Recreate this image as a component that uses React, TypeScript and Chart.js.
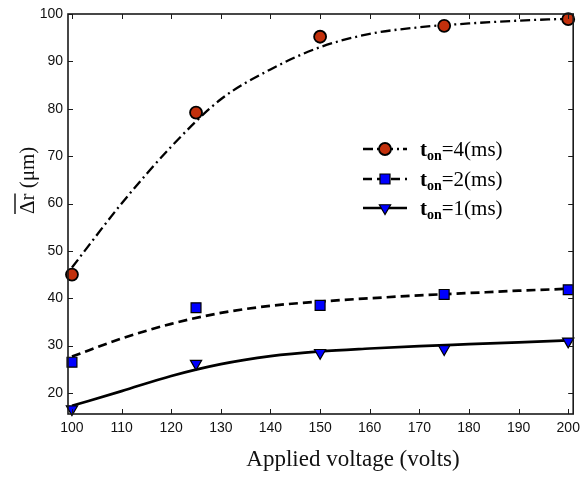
import React, { useEffect, useRef } from 'react';
import { Chart, registerables } from 'chart.js';
Chart.register(...registerables);

const voltages = [100, 125, 150, 175, 200];
const t4Points = [45, 79.2, 95.2, 97.5, 98.9];
const t2Points = [26.5, 38, 38.5, 40.8, 41.8];
const t1Points = [16.6, 26.2, 28.5, 29.3, 30.9];

const fitVoltages = [100, 110, 120, 130, 140, 150, 160, 170, 180, 190, 200];
const t4Fit = [46.5, 60, 72, 82, 88.3, 93, 95.8, 97.2, 98, 98.6, 99];
const t2Fit = [27.7, 31.5, 34.6, 36.9, 38.4, 39.3, 40, 40.6, 41.1, 41.6, 42];
const t1Fit = [17.3, 20.4, 23.6, 26.1, 27.8, 28.8, 29.4, 29.9, 30.3, 30.7, 31.1];

const xTicks = [100, 110, 120, 130, 140, 150, 160, 170, 180, 190, 200];
const yTicks = [20, 30, 40, 50, 60, 70, 80, 90, 100];

const legendValues = ['=4(ms)', '=2(ms)', '=1(ms)'];
const xTitle = 'Applied voltage (volts)';
const yTitleMain = 'Δr';
const yTitleUnit = ' (μm)';

const RED = '#c2300c';
const BLUE = '#0000ff';
const dash4 = [10, 4, 2, 4];
const dash2 = [9, 5];
const dash1: number[] = [];

const toXY = (xs: number[], ys: number[]) => xs.map((x, i) => ({ x, y: ys[i] }));

function drawMarker(ctx: CanvasRenderingContext2D, style: string, x: number, y: number, fill: string) {
  ctx.save();
  ctx.setLineDash([]);
  ctx.fillStyle = fill;
  ctx.strokeStyle = '#000';
  ctx.beginPath();
  if (style === 'circle') {
    ctx.lineWidth = 1.8;
    ctx.arc(x, y, 6, 0, Math.PI * 2);
  } else if (style === 'rect') {
    ctx.lineWidth = 1.2;
    ctx.rect(x - 5, y - 5, 10, 10);
  } else {
    ctx.lineWidth = 1.2;
    const r = 6.5;
    ctx.moveTo(x, y + r);
    ctx.lineTo(x - r * 0.866, y - r / 2);
    ctx.lineTo(x + r * 0.866, y - r / 2);
    ctx.closePath();
  }
  ctx.fill();
  ctx.stroke();
  ctx.restore();
}

const decorPlugin = {
  id: 'decor',
  afterDraw(chart: any) {
    const { ctx, chartArea: a, scales } = chart;
    const xs = scales.x;
    const ys = scales.y;
    ctx.save();
    ctx.strokeStyle = '#1a1a1a';
    ctx.lineWidth = 1;
    const tl = 5;
    xs.ticks.forEach((t: any) => {
      const px = Math.round(xs.getPixelForValue(t.value)) + 0.5;
      ctx.beginPath();
      ctx.moveTo(px, a.bottom);
      ctx.lineTo(px, a.bottom - tl);
      ctx.moveTo(px, a.top);
      ctx.lineTo(px, a.top + tl);
      ctx.stroke();
    });
    ys.ticks.forEach((t: any) => {
      const py = Math.round(ys.getPixelForValue(t.value)) + 0.5;
      ctx.beginPath();
      ctx.moveTo(a.left, py);
      ctx.lineTo(a.left + tl, py);
      ctx.moveTo(a.right, py);
      ctx.lineTo(a.right - tl, py);
      ctx.stroke();
    });
    ctx.lineWidth = 1.6;
    ctx.strokeRect(a.left, a.top, a.right - a.left, a.bottom - a.top);

    // x title
    ctx.fillStyle = '#111';
    ctx.font = '23px "Liberation Serif"';
    ctx.textAlign = 'center';
    ctx.textBaseline = 'alphabetic';
    ctx.fillText(xTitle, 353, 466);

    // y title with overline
    ctx.save();
    ctx.translate(28, 214);
    ctx.rotate(-Math.PI / 2);
    ctx.font = '21px "Liberation Serif"';
    ctx.textAlign = 'left';
    ctx.textBaseline = 'middle';
    ctx.fillText(yTitleMain, 0, 0);
    const w1 = ctx.measureText(yTitleMain).width;
    ctx.lineWidth = 1.5;
    ctx.beginPath();
    ctx.moveTo(0, -13);
    ctx.lineTo(w1, -13);
    ctx.stroke();
    ctx.fillText(yTitleUnit, w1, 0);
    ctx.restore();

    // legend
    const rows = [
      { y: 149, style: 'circle', fill: RED, dash: dash4, lw: 2.3 },
      { y: 179, style: 'rect', fill: BLUE, dash: dash2, lw: 2.7 },
      { y: 208, style: 'tri', fill: BLUE, dash: dash1, lw: 2.7 },
    ];
    rows.forEach((r, i) => {
      ctx.save();
      ctx.strokeStyle = '#000';
      ctx.lineWidth = r.lw;
      ctx.setLineDash(r.dash);
      ctx.beginPath();
      ctx.moveTo(363, r.y);
      ctx.lineTo(407, r.y);
      ctx.stroke();
      ctx.restore();
      drawMarker(ctx, r.style, 385, r.y, r.fill);
      ctx.fillStyle = '#000';
      ctx.textAlign = 'left';
      ctx.textBaseline = 'alphabetic';
      const base = r.y + 7;
      let x = 420;
      ctx.font = 'bold 21px "Liberation Serif"';
      ctx.fillText('t', x, base);
      x += ctx.measureText('t').width;
      ctx.font = 'bold 14px "Liberation Serif"';
      ctx.fillText('on', x, base + 4);
      x += ctx.measureText('on').width;
      ctx.font = '21px "Liberation Serif"';
      ctx.fillText(legendValues[i], x, base);
    });
    ctx.restore();
  },
};

export default function App() {
  const ref = useRef<HTMLCanvasElement>(null);
  useEffect(() => {
    if (!ref.current) return;
    const tickFont = { family: '"Liberation Sans", Arial, sans-serif', size: 14 };
    const chart = new Chart(ref.current, {
      type: 'scatter',
      data: {
        datasets: [
          {
            label: 't_on=4(ms) data',
            data: toXY(voltages, t4Points),
            pointStyle: 'circle',
            pointRadius: 6,
            pointBackgroundColor: RED,
            pointBorderColor: '#000',
            pointBorderWidth: 1.8,
            showLine: false,
            order: 0,
            clip: false,
          },
          {
            label: 't_on=2(ms) data',
            data: toXY(voltages, t2Points),
            pointStyle: 'rect',
            pointRadius: 7,
            pointBackgroundColor: BLUE,
            pointBorderColor: '#000',
            pointBorderWidth: 1.2,
            showLine: false,
            order: 0,
            clip: false,
          },
          {
            label: 't_on=1(ms) data',
            data: toXY(voltages, t1Points),
            pointStyle: 'triangle',
            pointRotation: 180,
            pointRadius: 6.5,
            pointBackgroundColor: BLUE,
            pointBorderColor: '#000',
            pointBorderWidth: 1.2,
            showLine: false,
            order: 0,
            clip: false,
          },
          {
            label: 't_on=4(ms) fit',
            data: toXY(fitVoltages, t4Fit),
            showLine: true,
            pointRadius: 0,
            borderColor: '#000',
            borderWidth: 2.3,
            borderDash: dash4,
            cubicInterpolationMode: 'monotone',
            order: 1,
          },
          {
            label: 't_on=2(ms) fit',
            data: toXY(fitVoltages, t2Fit),
            showLine: true,
            pointRadius: 0,
            borderColor: '#000',
            borderWidth: 2.7,
            borderDash: dash2,
            cubicInterpolationMode: 'monotone',
            order: 1,
          },
          {
            label: 't_on=1(ms) fit',
            data: toXY(fitVoltages, t1Fit),
            showLine: true,
            pointRadius: 0,
            borderColor: '#000',
            borderWidth: 2.7,
            cubicInterpolationMode: 'monotone',
            order: 1,
          },
        ] as any,
      },
      options: {
        animation: false,
        responsive: false,
        events: [],
        layout: { padding: { top: 14, right: 9, left: 0, bottom: 0 } },
        plugins: { legend: { display: false }, tooltip: { enabled: false } },
        scales: {
          x: {
            type: 'linear',
            min: 99.2,
            max: 201,
            grid: { display: false, drawTicks: false },
            border: { display: false },
            afterBuildTicks: (s: any) => {
              s.ticks = xTicks.map((v) => ({ value: v }));
            },
            afterFit: (s: any) => {
              s.height = 64;
            },
            ticks: { font: tickFont, color: '#111', padding: 6, maxRotation: 0, autoSkip: false },
          },
          y: {
            type: 'linear',
            min: 15.57,
            max: 100,
            grid: { display: false, drawTicks: false },
            border: { display: false },
            afterBuildTicks: (s: any) => {
              s.ticks = yTicks.map((v) => ({ value: v }));
            },
            afterFit: (s: any) => {
              s.width = 68;
            },
            ticks: { font: tickFont, color: '#111', padding: 5, autoSkip: false },
          },
        },
      } as any,
      plugins: [decorPlugin],
    });
    return () => chart.destroy();
  }, []);
  return (
    <div style={{ position: 'absolute', left: 0, top: 0, width: 586, height: 478, background: '#fff' }}>
      <canvas ref={ref} width={586} height={478} style={{ display: 'block' }} />
    </div>
  );
}
